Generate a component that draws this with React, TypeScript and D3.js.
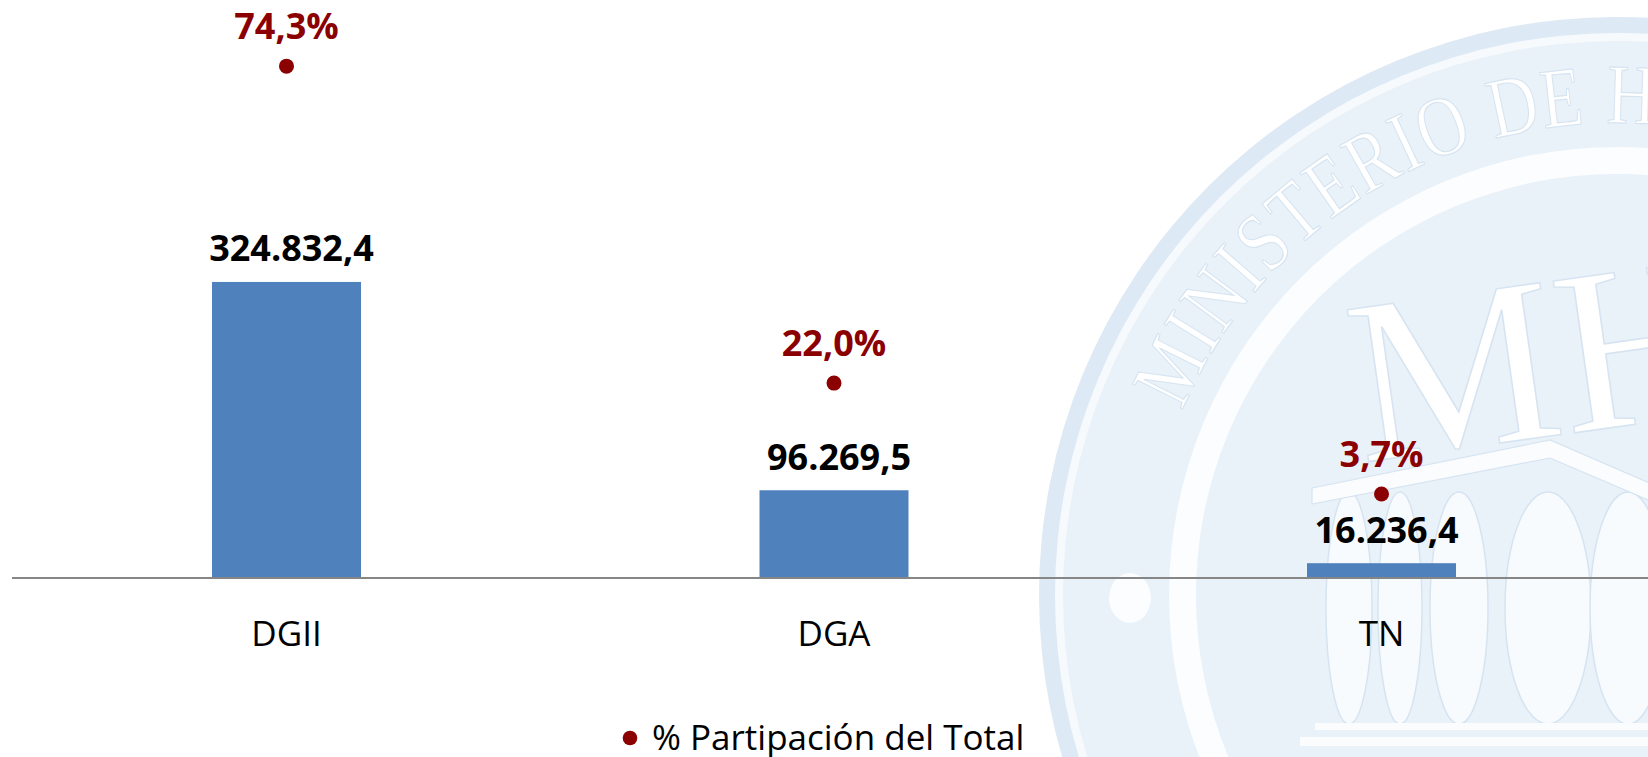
import React, { useEffect } from 'react';
import * as d3 from 'd3';

// datos del grafico
const categories = ['DGII', 'DGA', 'TN'];
const montos = [324832.4, 96269.5, 16236.4];
const participacion = [74.3, 22.0, 3.7];
const legendLabel = '% Partipación del Total';

const W = 1648;
const H = 757;
const BLUE = '#4F81BD';
const RED = '#8B0000';
const FONT = '"Segoe UI", "Open Sans", sans-serif';

const esLocale = d3.formatLocale({
  decimal: ',',
  thousands: '.',
  grouping: [3],
  currency: ['', ''],
});
const fmtMonto = esLocale.format(',.1f');
const fmtPct = (v: number) => esLocale.format('.1f')(v) + '%';

// anchos aproximados (em) de las letras serif del sello
const serifW: Record<string, number> = {
  M: 0.889, I: 0.333, N: 0.722, S: 0.556, T: 0.611, E: 0.611, R: 0.667,
  O: 0.722, D: 0.722, ' ': 0.25, H: 0.722, A: 0.722, C: 0.667,
};

// sello de fondo (marca de agua)
const Watermark = () => {
  const cx = 1617;
  const cy = 595;
  const pale = '#E9F1F9';
  const band = '#DDE9F5';
  const line = '#D6E4F1';
  const sealText = 'MINISTERIO DE HACIENDA';
  const fs = 85;
  const hs = 0.8;
  const gap = 4;
  const rBase = 472;
  const rMid = 500;
  const startDeg = -153.4;
  let s = 0;
  const letters = sealText.split('').map((ch, i) => {
    const w = serifW[ch] * fs * hs;
    if (i === 0) s = -w / 2;
    const centerS = s + w / 2;
    s += w + gap;
    const th = (startDeg * Math.PI) / 180 + centerS / rMid;
    return {
      ch,
      x: cx + rBase * Math.cos(th),
      y: cy + rBase * Math.sin(th),
      rot: (th * 180) / Math.PI + 90,
    };
  });
  const columns = [
    { x: 1349, rx: 23 },
    { x: 1400, rx: 22 },
    { x: 1459, rx: 29 },
    { x: 1548, rx: 43 },
    { x: 1628, rx: 38 },
  ];
  return (
    <g>
      <circle cx={cx} cy={cy} r={578} fill={band} />
      <circle cx={cx} cy={cy} r={562} fill="#F7FAFD" />
      <circle cx={cx} cy={cy} r={554} fill={pale} />
      <circle cx={cx} cy={cy} r={448} fill="#FBFDFF" />
      <circle cx={cx} cy={cy} r={421} fill={pale} />
      {letters.map((l, i) =>
        l.ch === ' ' ? null : (
          <text
            key={i}
            transform={`translate(${l.x},${l.y}) rotate(${l.rot}) scale(${hs},1)`}
            textAnchor="middle"
            fontFamily='"Liberation Serif", serif'
            fontSize={fs}
            fill="#FFFFFF"
            stroke={line}
            strokeWidth={1.2}
          >
            {l.ch}
          </text>
        )
      )}
      <ellipse cx={1130} cy={598} rx={21} ry={25} fill="#FBFDFF" />
      <text
        x={1350}
        y={450}
        transform="rotate(-8 1446 370)"
        fontFamily='"Liberation Serif", serif'
        fontSize={234}
        fill="#FFFFFF"
        stroke={line}
        strokeWidth={1.5}
      >
        MH
      </text>
      {columns.map((c, i) => (
        <ellipse
          key={i}
          cx={c.x}
          cy={608}
          rx={c.rx}
          ry={116}
          fill="#F8FBFE"
          stroke={line}
          strokeWidth={1.5}
        />
      ))}
      <path
        d="M1312,488 L1550,440 L1700,505 L1700,522 L1550,458 L1312,504 Z"
        fill="#FAFCFE"
        stroke={line}
        strokeWidth={1.2}
      />
      <rect x={1315} y={723} width={340} height={7} fill="#FAFCFE" />
      <rect x={1300} y={737} width={360} height={9} fill="#FAFCFE" />
    </g>
  );
};

export default function App() {
  useEffect(() => {
    document.body.style.margin = '0';
  }, []);

  const axisY = 578;
  const x = d3.scaleBand<string>().domain(categories).range([12.75, 1655.25]).padding(0);
  const barW = 149;
  const y = d3.scaleLinear().domain([0, 350000]).range([axisY, 259]);
  const y2 = d3.scaleLinear().domain([0, 80]).range([516.4, 31.6]);
  const cxOf = (c: string) => (x(c) ?? 0) + x.bandwidth() / 2;

  return (
    <svg
      width={W}
      height={H}
      style={{ position: 'absolute', left: 0, top: 0, background: '#fff' }}
      fontFamily={FONT}
    >
      <Watermark />

      {categories.map((c, i) => (
        <rect
          key={c}
          x={cxOf(c) - barW / 2}
          y={y(montos[i])}
          width={barW}
          height={axisY - y(montos[i])}
          fill={BLUE}
        />
      ))}

      <line x1={12} x2={W} y1={axisY} y2={axisY} stroke="#868686" strokeWidth={2} />

      {categories.map((c, i) => (
        <text
          key={c + '-v'}
          x={cxOf(c) + 5}
          y={y(montos[i]) - 20.5}
          textAnchor="middle"
          fontSize={36}
          fontWeight="bold"
          fill="#000"
        >
          {fmtMonto(montos[i])}
        </text>
      ))}

      {categories.map((c, i) => (
        <g key={c + '-p'}>
          <circle cx={cxOf(c)} cy={y2(participacion[i])} r={7.5} fill={RED} />
          <text
            x={cxOf(c)}
            y={y2(participacion[i]) - 27}
            textAnchor="middle"
            fontSize={36}
            fontWeight="bold"
            fill={RED}
          >
            {fmtPct(participacion[i])}
          </text>
        </g>
      ))}

      {categories.map((c) => (
        <text key={c + '-l'} x={cxOf(c)} y={646} textAnchor="middle" fontSize={35} fill="#000">
          {c}
        </text>
      ))}

      <circle cx={630} cy={738} r={7.3} fill={RED} />
      <text x={652} y={750} fontSize={35} fill="#000">
        {legendLabel}
      </text>
    </svg>
  );
}
